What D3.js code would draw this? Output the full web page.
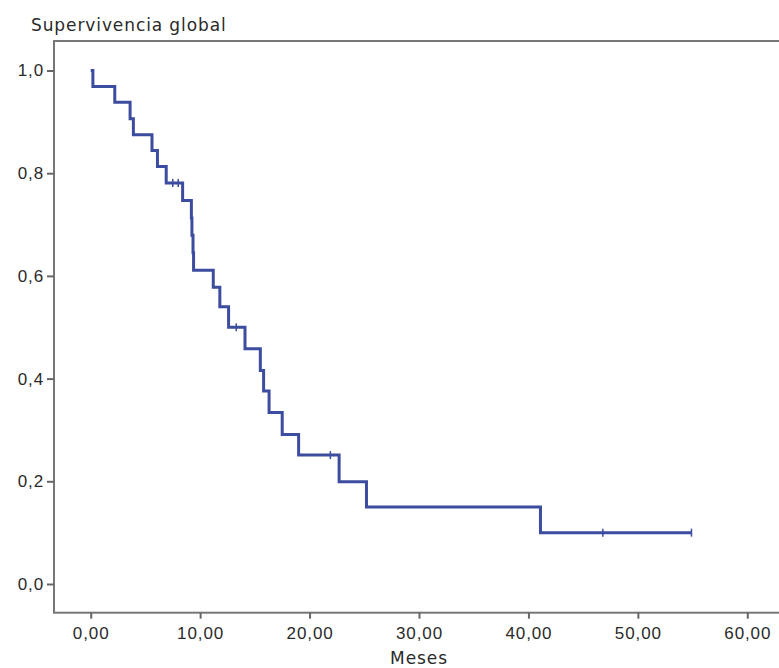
<!DOCTYPE html>
<html>
<head>
<meta charset="utf-8">
<script src="https://cdn.jsdelivr.net/npm/d3@7"></script>
<style>
  body { margin: 0; background: #fff; }
  svg { font-family: "DejaVu Sans", Verdana, sans-serif; }
  svg text { letter-spacing: 0.9px; }
  .axis text { fill: #2a2a2a; font-size: 17px; }
  .axis line { stroke: #666; stroke-width: 2; }
</style>
</head>
<body>
<div id="chart"></div>
<script>
// Kaplan-Meier steps
const eventTimes = [0.2, 2.2, 3.6, 3.9, 5.6, 6.1, 6.9, 8.4, 9.2, 9.25, 9.35, 9.4,
  11.2, 11.8, 12.6, 14.1, 15.5, 15.8, 16.3, 17.5, 19.0, 22.7, 25.2, 41.1];
const survival = [0.969, 0.938, 0.906, 0.875, 0.844, 0.813, 0.781, 0.747, 0.713, 0.679, 0.645, 0.611,
  0.578, 0.540, 0.500, 0.458, 0.416, 0.376, 0.334, 0.291, 0.251, 0.199, 0.150, 0.100];
const censorTimes = [7.5, 8.0, 13.3, 21.9, 46.8, 54.9];
const endTime = 54.9;
const xTicks = [0, 10, 20, 30, 40, 50, 60];
const yTicks = [0, 0.2, 0.4, 0.6, 0.8, 1.0];

const W = 779, H = 668;
const frame = {left: 54, top: 41, bottom: 612.7};

const svg = d3.select('#chart').append('svg')
  .attr('width', W)
  .attr('height', H);

const x = d3.scaleLinear().domain([0, 60]).range([90.7, 747.3]);
const y = d3.scaleLinear().domain([0, 1]).range([584, 70.5]);

// frame (right side runs off the picture)
svg.append('rect')
  .attr('x', frame.left)
  .attr('y', frame.top)
  .attr('width', W + 20)
  .attr('height', frame.bottom - frame.top)
  .attr('fill', 'none')
  .attr('stroke', '#777')
  .attr('stroke-width', 2);

const comma = f => d => f(d).replace('.', ',');

svg.append('g')
  .attr('class', 'axis')
  .attr('transform', 'translate(0,' + frame.bottom + ')')
  .call(d3.axisBottom(x).tickValues(xTicks).tickSize(6).tickPadding(8)
    .tickFormat(comma(d3.format('.2f'))))
  .call(g => g.select('.domain').remove());

svg.append('g')
  .attr('class', 'axis')
  .attr('transform', 'translate(' + frame.left + ',0)')
  .call(d3.axisLeft(y).tickValues(yTicks).tickSize(7).tickPadding(3)
    .tickFormat(comma(d3.format('.1f'))))
  .call(g => g.select('.domain').remove());

// step curve
const pts = [[0, 1]];
let s = 1;
eventTimes.forEach((t, i) => {
  pts.push([t, s]);
  s = survival[i];
  pts.push([t, s]);
});
pts.push([endTime, s]);

const line = d3.line().x(d => x(d[0])).y(d => y(d[1]));
svg.append('path')
  .datum(pts)
  .attr('d', line)
  .attr('fill', 'none')
  .attr('stroke', '#3c4c9e')
  .attr('stroke-width', 3)
  .attr('stroke-linejoin', 'miter');

const survAt = t => {
  let v = 1;
  eventTimes.forEach((e, i) => { if (e <= t) v = survival[i]; });
  return v;
};

svg.selectAll('.censor')
  .data(censorTimes)
  .enter().append('line')
  .attr('class', 'censor')
  .attr('x1', d => x(d)).attr('x2', d => x(d))
  .attr('y1', d => y(survAt(d)) - 4)
  .attr('y2', d => y(survAt(d)) + 4)
  .attr('stroke', '#3c4c9e')
  .attr('stroke-width', 1.5);

svg.append('text')
  .attr('x', 31)
  .attr('y', 31)
  .attr('fill', '#2a2a2a')
  .style('font-size', '17px')
  .text('Supervivencia global');

svg.append('text')
  .attr('x', x(30))
  .attr('y', 664)
  .attr('text-anchor', 'middle')
  .attr('fill', '#2a2a2a')
  .style('font-size', '17px')
  .text('Meses');
</script>
</body>
</html>
